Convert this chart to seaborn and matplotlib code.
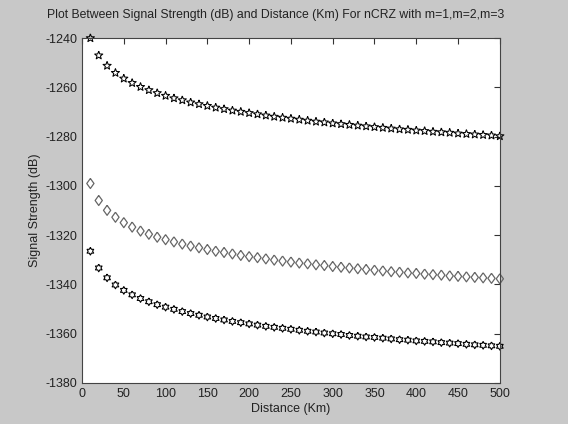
import numpy as np
import pandas as pd
import matplotlib
matplotlib.use("Agg")
import matplotlib.pyplot as plt
import seaborn as sns

# Distance (Km)
distance = list(range(10, 510, 10))

# m=1 (pentagram)
m1 = [-1240.0, -1247.0, -1251.2, -1254.1, -1256.4, -1258.2, -1259.8, -1261.1, -1262.3, -1263.4,
      -1264.4, -1265.2, -1266.1, -1266.8, -1267.5, -1268.2, -1268.8, -1269.4, -1269.9, -1270.4,
      -1270.9, -1271.4, -1271.9, -1272.3, -1272.7, -1273.1, -1273.5, -1273.9, -1274.2, -1274.6,
      -1274.9, -1275.2, -1275.5, -1275.8, -1276.1, -1276.4, -1276.7, -1277.0, -1277.2, -1277.5,
      -1277.7, -1278.0, -1278.2, -1278.4, -1278.7, -1278.9, -1279.1, -1279.3, -1279.5, -1279.8]

# m=2 (diamond)
m2 = [-1299.0, -1305.9, -1309.9, -1312.7, -1314.9, -1316.7, -1318.3, -1319.6, -1320.8, -1321.8,
      -1322.7, -1323.6, -1324.4, -1325.1, -1325.8, -1326.5, -1327.0, -1327.6, -1328.2, -1328.7,
      -1329.1, -1329.6, -1330.1, -1330.5, -1330.9, -1331.3, -1331.6, -1332.0, -1332.3, -1332.7,
      -1333.0, -1333.3, -1333.6, -1333.9, -1334.2, -1334.5, -1334.8, -1335.0, -1335.3, -1335.5,
      -1335.8, -1336.0, -1336.2, -1336.5, -1336.7, -1336.9, -1337.1, -1337.3, -1337.5, -1337.7]

# m=3 (hexagram)
m3 = [-1326.5, -1333.3, -1337.3, -1340.2, -1342.4, -1344.2, -1345.7, -1347.0, -1348.2, -1349.2,
      -1350.1, -1351.0, -1351.8, -1352.5, -1353.2, -1353.8, -1354.4, -1355.0, -1355.5, -1356.0,
      -1356.5, -1357.0, -1357.4, -1357.8, -1358.2, -1358.6, -1359.0, -1359.3, -1359.7, -1360.0,
      -1360.3, -1360.7, -1361.0, -1361.3, -1361.5, -1361.8, -1362.1, -1362.4, -1362.6, -1362.9,
      -1363.1, -1363.3, -1363.6, -1363.8, -1364.0, -1364.3, -1364.5, -1364.7, -1364.9, -1365.1]

df = pd.DataFrame({"Distance": distance, "m1": m1, "m2": m2, "m3": m3})

# marker shapes (matlab style), closed paths
ang5 = np.pi / 2 + np.arange(11) * np.pi / 5
rad5 = np.where(np.arange(11) % 2 == 0, 1.0, 0.42)
pentagram = list(zip(rad5 * np.cos(ang5), rad5 * np.sin(ang5)))

ang6 = np.pi / 2 + np.arange(13) * np.pi / 6
rad6 = np.where(np.arange(13) % 2 == 0, 1.0, 0.58)
hexagram = list(zip(rad6 * np.cos(ang6), rad6 * np.sin(ang6)))

diamond = [(0, 1), (0.72, 0), (0, -1), (-0.72, 0), (0, 1)]

sns.set_style("white")
plt.rcParams['font.family'] = ['Liberation Sans', 'DejaVu Sans']
plt.rcParams['font.size'] = 9
plt.rcParams['axes.unicode_minus'] = False

bg = "#c8c8c8"
fig = plt.figure(figsize=(5.68, 4.24), dpi=100, facecolor=bg)
ax = fig.add_axes([0.1444, 0.0967, 0.7356, 0.8133])
ax.set_facecolor("white")

sns.scatterplot(data=df, x="Distance", y="m1", marker=pentagram, s=38,
                facecolor="none", edgecolor="black", linewidth=0.75, ax=ax, clip_on=False)
sns.scatterplot(data=df, x="Distance", y="m2", marker=diamond, s=52,
                facecolor="none", edgecolor="#666666", linewidth=0.9, ax=ax, clip_on=False)
sns.scatterplot(data=df, x="Distance", y="m3", marker=hexagram, s=30,
                facecolor="none", edgecolor="black", linewidth=0.8, ax=ax, clip_on=False)

ax.set_xlim(0, 500)
ax.set_ylim(-1380, -1240)
ax.set_xticks(range(0, 501, 50))
ax.set_yticks(range(-1380, -1239, 20))
ax.tick_params(direction="in", length=4, width=0.8, top=True, right=True,
               colors="#333333", labelcolor="#222222", labelsize=9)
for sp in ax.spines.values():
    sp.set_visible(True)
    sp.set_color("#444444")
    sp.set_linewidth(0.8)

fig.text(276 / 568, 1 - 15 / 424,
         "Plot Between Signal Strength (dB) and Distance (Km) For nCRZ with m=1,m=2,m=3",
         fontsize=8.8, color="#222222", ha="center", va="center")
ax.set_xlabel("Distance (Km)", color="#222222", labelpad=2)
ax.set_ylabel("Signal Strength (dB)", color="#222222", labelpad=3)

fig.savefig("out.png", dpi=100, facecolor=bg)
